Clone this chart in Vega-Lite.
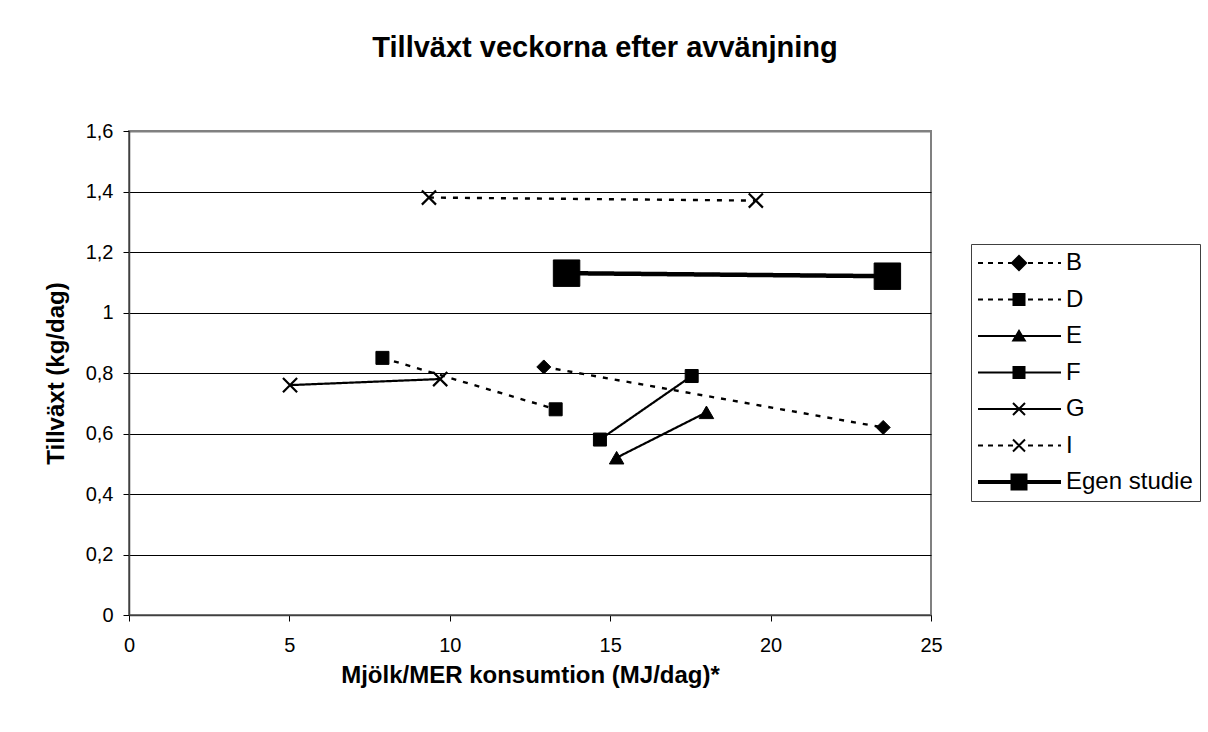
{
  "$schema": "https://vega.github.io/schema/vega-lite/v6.json",
  "width": 802,
  "height": 484,
  "autosize": {"type": "none"},
  "padding": {"left": 129, "top": 131, "right": 277, "bottom": 117},
  "background": "white",
  "title": {
    "text": "Tillväxt veckorna efter avvänjning",
    "fontSize": 29,
    "fontWeight": "bold",
    "font": "Liberation Sans",
    "color": "black",
    "anchor": "middle",
    "dx": 75,
    "baseline": "alphabetic",
    "offset": 35
  },
  "data": {
    "values": [
      {"series": "B", "x": 12.93, "y": 0.82},
      {"series": "B", "x": 23.51, "y": 0.62},
      {"series": "D", "x": 7.9, "y": 0.85},
      {"series": "D", "x": 13.3, "y": 0.68},
      {"series": "E", "x": 15.2, "y": 0.52},
      {"series": "E", "x": 18.0, "y": 0.67},
      {"series": "F", "x": 14.68, "y": 0.58},
      {"series": "F", "x": 17.54, "y": 0.79},
      {"series": "G", "x": 5.02, "y": 0.76},
      {"series": "G", "x": 9.7, "y": 0.78},
      {"series": "I", "x": 9.35, "y": 1.38},
      {"series": "I", "x": 19.54, "y": 1.37},
      {"series": "Egen studie", "x": 13.64, "y": 1.13},
      {"series": "Egen studie", "x": 23.64, "y": 1.12}
    ]
  },
  "config": {
    "font": "Liberation Sans",
    "view": {"stroke": "#808080", "strokeWidth": 2},
    "axis": {
      "labelColor": "black",
      "titleColor": "black",
      "labelFontSize": 20,
      "titleFontSize": 24,
      "titleFontWeight": "bold",
      "tickColor": "black",
      "tickSize": 6,
      "domainColor": "#404040",
      "domainWidth": 1.5,
      "labelFlush": false,
      "labelOverlap": false
    }
  },
  "encoding": {
    "x": {
      "field": "x",
      "type": "quantitative",
      "scale": {"domain": [0, 25], "nice": false},
      "axis": {
        "title": "Mjölk/MER konsumtion (MJ/dag)*",
        "values": [0, 5, 10, 15, 20, 25],
        "grid": false,
        "labelPadding": 14,
        "titlePadding": 8
      }
    },
    "y": {
      "field": "y",
      "type": "quantitative",
      "scale": {"domain": [0, 1.6], "nice": false},
      "axis": {
        "title": "Tillväxt (kg/dag)",
        "values": [0, 0.2, 0.4, 0.6, 0.8, 1, 1.2, 1.4, 1.6],
        "format": "~g",
        "labelExpr": "replace(datum.label, '.', ',')",
        "grid": true,
        "gridColor": {"condition": {"test": "datum.value >= 1.59", "value": "#808080"}, "value": "black"},
        "gridWidth": {"condition": {"test": "datum.value >= 1.59", "value": 2}, "value": 1},
        "labelPadding": 10,
        "titlePadding": 17
      }
    }
  },
  "layer": [
    {
      "mark": {"type": "line", "color": "black"},
      "encoding": {
        "strokeDash": {
          "field": "series",
          "type": "nominal",
          "scale": {
            "domain": ["B", "D", "E", "F", "G", "I", "Egen studie"],
            "range": [[5, 7], [5, 7], [1, 0], [1, 0], [1, 0], [5, 7], [1, 0]]
          },
          "legend": null
        },
        "strokeWidth": {
          "field": "series",
          "type": "nominal",
          "scale": {
            "type": "ordinal",
            "domain": ["B", "D", "E", "F", "G", "I", "Egen studie"],
            "range": [2.4, 2.4, 2.2, 2.2, 2.2, 2.4, 4.5]
          },
          "legend": null
        }
      }
    },
    {
      "mark": {"type": "point", "filled": true, "color": "black", "stroke": "black", "opacity": 1},
      "encoding": {
        "shape": {
          "field": "series",
          "type": "nominal",
          "scale": {
            "domain": ["B", "D", "E", "F", "G", "I", "Egen studie"],
            "range": ["diamond", "square", "triangle-up", "square", "M-1,-1L1,1M-1,1L1,-1", "M-1,-1L1,1M-1,1L1,-1", "square"]
          },
          "legend": null
        },
        "size": {
          "field": "series",
          "type": "nominal",
          "scale": {
            "type": "ordinal",
            "domain": ["B", "D", "E", "F", "G", "I", "Egen studie"],
            "range": [196, 169, 210, 169, 200, 200, 700]
          },
          "legend": null
        },
        "strokeWidth": {
          "field": "series",
          "type": "nominal",
          "scale": {
            "type": "ordinal",
            "domain": ["B", "D", "E", "F", "G", "I", "Egen studie"],
            "range": [1, 1, 1, 1, 2.2, 2.2, 1]
          },
          "legend": null
        }
      }
    },
    {
      "transform": [{"filter": "datum.y < 0"}],
      "mark": {"type": "point", "filled": true, "color": "black", "opacity": 1},
      "encoding": {
        "shape": {
          "field": "series",
          "type": "nominal",
          "scale": {
            "domain": ["B", "D", "E", "F", "G", "I", "Egen studie"],
            "range": [
              "M-41,-1H-36V1H-41Z M-31,-1H-26V1H-31Z M-21,-1H-16V1H-21Z M-11,-1H-6V1H-11Z M9,-1H14V1H9Z M19,-1H24V1H19Z M29,-1H34V1H29Z M39,-1H42V1H39Z M0,-8.5L8.5,0L0,8.5L-8.5,0Z",
              "M-41,-1H-36V1H-41Z M-31,-1H-26V1H-31Z M-21,-1H-16V1H-21Z M-11,-1H-6V1H-11Z M9,-1H14V1H9Z M19,-1H24V1H19Z M29,-1H34V1H29Z M39,-1H42V1H39Z M-6.5,-6.5H6.5V6.5H-6.5Z",
              "M-41,-1H42V1H-41Z M0,-7L7.5,5.5H-7.5Z",
              "M-41,-1H42V1H-41Z M-6.5,-6.5H6.5V6.5H-6.5Z",
              "M-41,-1H42V1H-41Z M-6.7,-5.3L-5.3,-6.7L6.7,5.3L5.3,6.7Z M5.3,-6.7L6.7,-5.3L-5.3,6.7L-6.7,5.3Z",
              "M-41,-1H-36V1H-41Z M-31,-1H-26V1H-31Z M-21,-1H-16V1H-21Z M-11,-1H-6V1H-11Z M9,-1H14V1H9Z M19,-1H24V1H19Z M29,-1H34V1H29Z M39,-1H42V1H39Z M-6.7,-5.3L-5.3,-6.7L6.7,5.3L5.3,6.7Z M5.3,-6.7L6.7,-5.3L-5.3,6.7L-6.7,5.3Z",
              "M-41,-2H42V2H-41Z M-8.5,-8.5H8.5V8.5H-8.5Z"
            ]
          },
          "legend": {
            "title": null,
            "orient": "none",
            "legendX": 842,
            "legendY": 113,
            "padding": 7,
            "strokeColor": "#404040",
            "fillColor": "white",
            "symbolSize": 4,
            "symbolOffset": 29,
            "labelOffset": 35,
            "symbolFillColor": "black",
            "symbolStrokeWidth": 0,
            "symbolOpacity": 1,
            "labelFontSize": 24,
            "labelColor": "black",
            "labelLimit": 300,
            "rowPadding": 12.5
          }
        }
      }
    }
  ],
  "resolve": {"scale": {"shape": "independent", "size": "independent", "strokeWidth": "independent"}, "legend": {"shape": "independent"}}
}
